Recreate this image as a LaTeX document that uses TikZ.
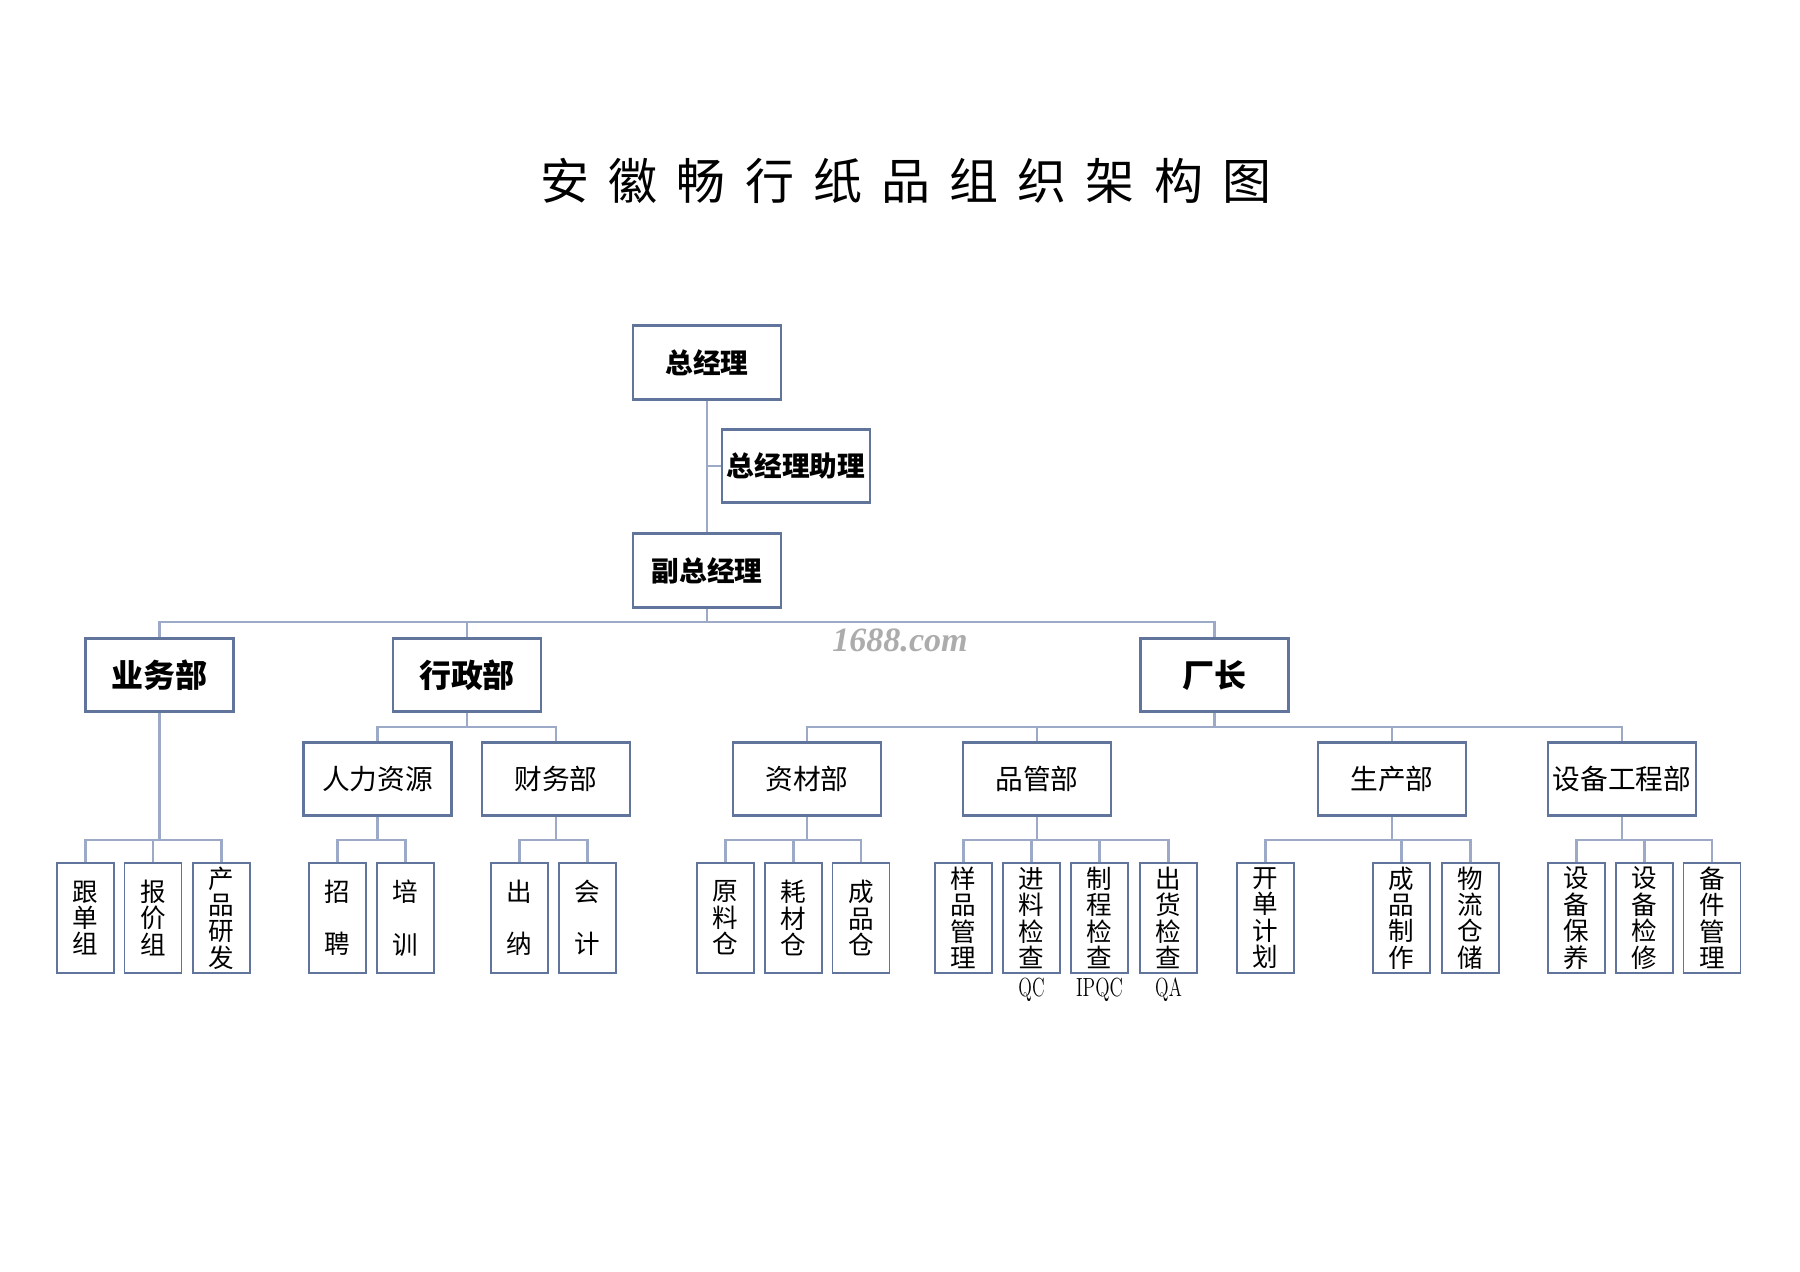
\documentclass[tikz,border=0pt]{standalone}
\usepackage{fontspec}
\usepackage{graphicx}
\usepackage{xcolor}
\usepackage{tikz}
\newfontfamily\cjk{Noto Sans CJK SC}
\newfontfamily\markfont{Liberation Serif}
\definecolor{boxline}{RGB}{96,116,156}
\definecolor{linkline}{RGB}{156,170,200}
\newcommand{\tgap}{\hspace{9pt}}

\begin{document}
\begin{tikzpicture}[x=0.165mm, y=-0.165mm,
        topbox/.style={draw=boxline, line width=1.3pt, fill=white, minimum width=24.4mm, minimum height=12.1mm, inner sep=0pt, font=\cjk\bfseries\fontsize{13}{15}\selectfont},
        deptbox/.style={topbox, font=\cjk\bfseries\fontsize{15}{17}\selectfont},
        subbox/.style={topbox, font=\cjk\fontsize{13}{15}\selectfont},
        leafbox/.style={draw=boxline, line width=0.9pt, fill=white, minimum width=9.4mm, minimum height=18.1mm, inner sep=0pt, align=center, font=\cjk\fontsize{12}{12.4}\selectfont},
        link/.style={draw=linkline, line width=1pt},
        tag/.style={inner sep=0pt, font=\fontsize{12.3}{13}\selectfont}]
        \useasboundingbox (0, 0) rectangle (1800, 1272);

        \node[font=\cjk\fontsize{23}{26}\selectfont] (title) at (906, 181) {安\tgap 徽\tgap 畅\tgap 行\tgap 纸\tgap 品\tgap 组\tgap 织\tgap 架\tgap 构\tgap 图};
        \node[text=gray!65, font=\markfont\bfseries\itshape\fontsize{16}{16}\selectfont] (wmark) at (900, 640) {1688.com};

        \node[topbox] (zjl) at (707, 362.5) {总经理};
        \node[topbox] (zlzl) at (796, 466) {总经理助理};
        \node[topbox] (fzjl) at (707, 570.5) {副总经理};

        \node[deptbox] (ywb) at (159.5, 675) {业务部};
        \node[deptbox] (xzb) at (467, 675) {行政部};
        \node[deptbox] (cz) at (1214.5, 675) {厂长};

        \node[subbox] (rlzy) at (377.5, 779) {人力资源};
        \node[subbox] (cwb) at (556, 779) {财务部};
        \node[subbox] (zcb) at (807, 779) {资材部};
        \node[subbox] (pgb) at (1037, 779) {品管部};
        \node[subbox] (scb) at (1392, 779) {生产部};
        \node[subbox] (sbb) at (1622, 779) {设备工程部};

        \node[leafbox] (gdz) at (85.5, 918) {跟\\单\\组};
        \node[leafbox] (bjz) at (153, 918) {报\\价\\组};
        \node[leafbox] (cpyf) at (221.5, 918) {产\\品\\研\\发};
        \node[leafbox] (zp) at (337.5, 918) {招\\[4.3mm]聘};
        \node[leafbox] (px) at (405.5, 918) {培\\[4.3mm]训};
        \node[leafbox] (cn) at (519.5, 918) {出\\[4.3mm]纳};
        \node[leafbox] (kj) at (587.5, 918) {会\\[4.3mm]计};
        \node[leafbox] (ylc) at (725.5, 918) {原\\料\\仓};
        \node[leafbox] (hcc) at (793.5, 918) {耗\\材\\仓};
        \node[leafbox] (cpc) at (861, 918) {成\\品\\仓};
        \node[leafbox] (ypgl) at (963.5, 918) {样\\品\\管\\理};
        \node[leafbox] (jljc) at (1031.5, 918) {进\\料\\检\\查};
        \node[leafbox] (zcjc) at (1099.5, 918) {制\\程\\检\\查};
        \node[leafbox] (chjc) at (1168.5, 918) {出\\货\\检\\查};
        \node[leafbox] (kdjh) at (1265.5, 918) {开\\单\\计\\划};
        \node[leafbox] (cpzz) at (1401.5, 918) {成\\品\\制\\作};
        \node[leafbox] (wlcc) at (1470.5, 918) {物\\流\\仓\\储};
        \node[leafbox] (sbby) at (1576.5, 918) {设\\备\\保\\养};
        \node[leafbox] (sbjx) at (1644.5, 918) {设\\备\\检\\修};
        \node[leafbox] (bjgl) at (1712, 918) {备\\件\\管\\理};

        \node[tag] (qc) at (1031.5, 990) {\scalebox{0.68}[1]{QC}};
        \node[tag] (ipqc) at (1099.5, 990) {\scalebox{0.72}[1]{IPQC}};
        \node[tag] (qa) at (1168.5, 990) {\scalebox{0.68}[1]{QA}};

        \coordinate (busa) at (0, 622);
        \coordinate (busb) at (0, 727);
        \coordinate (busc) at (0, 840);

        \draw[link] (zjl) -- (fzjl);
        \draw[link] (zlzl.west) -- (zlzl.west -| zjl.south);

        \draw[link] (ywb.north) -- (ywb.north |- busa) -| (fzjl.south);
        \draw[link] (xzb.north) -- (xzb.north |- busa) -| (fzjl.south);
        \draw[link] (cz.north) -- (cz.north |- busa) -| (fzjl.south);

        \draw[link] (rlzy.north) -- (rlzy.north |- busb) -| (xzb.south);
        \draw[link] (cwb.north) -- (cwb.north |- busb) -| (xzb.south);
        \draw[link] (zcb.north) -- (zcb.north |- busb) -| (cz.south);
        \draw[link] (pgb.north) -- (pgb.north |- busb) -| (cz.south);
        \draw[link] (scb.north) -- (scb.north |- busb) -| (cz.south);
        \draw[link] (sbb.north) -- (sbb.north |- busb) -| (cz.south);

        \draw[link] (gdz.north) -- (gdz.north |- busc) -| (ywb.south);
        \draw[link] (bjz.north) -- (bjz.north |- busc) -| (ywb.south);
        \draw[link] (cpyf.north) -- (cpyf.north |- busc) -| (ywb.south);
        \draw[link] (zp.north) -- (zp.north |- busc) -| (rlzy.south);
        \draw[link] (px.north) -- (px.north |- busc) -| (rlzy.south);
        \draw[link] (cn.north) -- (cn.north |- busc) -| (cwb.south);
        \draw[link] (kj.north) -- (kj.north |- busc) -| (cwb.south);
        \draw[link] (ylc.north) -- (ylc.north |- busc) -| (zcb.south);
        \draw[link] (hcc.north) -- (hcc.north |- busc) -| (zcb.south);
        \draw[link] (cpc.north) -- (cpc.north |- busc) -| (zcb.south);
        \draw[link] (ypgl.north) -- (ypgl.north |- busc) -| (pgb.south);
        \draw[link] (jljc.north) -- (jljc.north |- busc) -| (pgb.south);
        \draw[link] (zcjc.north) -- (zcjc.north |- busc) -| (pgb.south);
        \draw[link] (chjc.north) -- (chjc.north |- busc) -| (pgb.south);
        \draw[link] (kdjh.north) -- (kdjh.north |- busc) -| (scb.south);
        \draw[link] (cpzz.north) -- (cpzz.north |- busc) -| (scb.south);
        \draw[link] (wlcc.north) -- (wlcc.north |- busc) -| (scb.south);
        \draw[link] (sbby.north) -- (sbby.north |- busc) -| (sbb.south);
        \draw[link] (sbjx.north) -- (sbjx.north |- busc) -| (sbb.south);
        \draw[link] (bjgl.north) -- (bjgl.north |- busc) -| (sbb.south);
    \end{tikzpicture}
\end{document}
